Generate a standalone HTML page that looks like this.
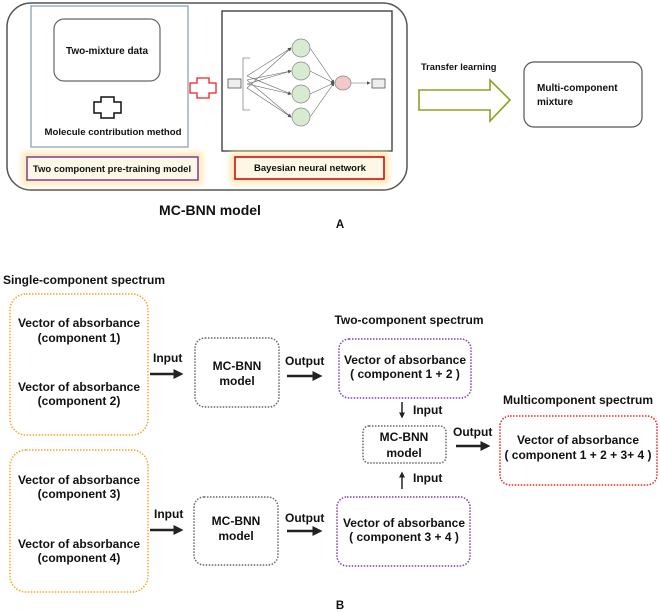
<!DOCTYPE html>
<html><head><meta charset="utf-8"><style>
body{margin:0;background:#fff}
svg{display:block}
text{font-family:"Liberation Sans","Noto Sans CJK SC",sans-serif;font-weight:bold;fill:#111}
</style></head><body>
<svg width="660" height="613" viewBox="0 0 660 613" xmlns="http://www.w3.org/2000/svg">
<defs>
<filter id="glow" x="-20%" y="-60%" width="140%" height="220%"><feGaussianBlur stdDeviation="3"/></filter>
<marker id="ah" markerWidth="6" markerHeight="6" refX="5" refY="3" orient="auto"><path d="M0,0 L6,3 L0,6 z" fill="#555"/></marker>
<marker id="bh" markerWidth="4" markerHeight="4" refX="3" refY="2" orient="auto"><path d="M0,0 L4,2 L0,4 z" fill="#222"/></marker>
</defs>
<!-- Part A -->
<rect x="7" y="3" width="400" height="187" rx="24" fill="none" stroke="#555" stroke-width="1.5"/>
<rect x="31" y="6" width="157" height="141" fill="none" stroke="#8aa3b5" stroke-width="1.3"/>
<rect x="54" y="19" width="106" height="62" rx="10" fill="none" stroke="#666" stroke-width="1.2"/>
<text x="107" y="54" font-size="10" text-anchor="middle">Two-mixture data</text>
<path d="M101,97 h13 v5 h7 v11 h-7 v5 h-13 v-5 h-7 v-11 h7 z" fill="none" stroke="#111" stroke-width="1.5"/>
<text x="113" y="135" font-size="9.6" text-anchor="middle">Molecule contribution method</text>
<rect x="22" y="152" width="181" height="33" fill="#fde9b6" filter="url(#glow)"/>
<rect x="27" y="157" width="171" height="23" fill="#fff7e6" stroke="#7b3fa0" stroke-width="1.5"/>
<text x="112" y="172" font-size="9.5" text-anchor="middle">Two component pre-training model</text>
<path d="M197,78 h12 v5 h7 v10 h-7 v5 h-12 v-5 h-7 v-10 h7 z" fill="none" stroke="#e22" stroke-width="1.3"/>
<rect x="222" y="11" width="170" height="140" fill="#fff" stroke="#333" stroke-width="1.3"/>
<rect x="228" y="79" width="13" height="9" fill="#eee" stroke="#555" stroke-width="0.8"/>
<path d="M250,58 h-7 v52 h7" fill="none" stroke="#888" stroke-width="0.8"/>
<g stroke="#666" stroke-width="0.6" marker-end="url(#ah)">
<line x1="247" y1="76" x2="291" y2="48"/><line x1="247" y1="80" x2="291" y2="71"/><line x1="247" y1="84" x2="291" y2="94"/><line x1="247" y1="88" x2="291" y2="117"/>
<line x1="247" y1="88" x2="291" y2="48"/><line x1="247" y1="76" x2="291" y2="94"/><line x1="247" y1="84" x2="291" y2="71"/><line x1="247" y1="80" x2="291" y2="117"/>
<line x1="310" y1="48" x2="334" y2="83"/><line x1="310" y1="71" x2="334" y2="83"/><line x1="310" y1="94" x2="334" y2="83"/><line x1="310" y1="117" x2="334" y2="83"/>
<line x1="351" y1="83" x2="370" y2="83"/>
</g>
<g fill="#d6ebcf" stroke="#888" stroke-width="0.7">
<circle cx="301" cy="48" r="9"/><circle cx="301" cy="71" r="9"/><circle cx="301" cy="94" r="9"/><circle cx="301" cy="117" r="9"/>
</g>
<ellipse cx="343" cy="83" rx="8" ry="7" fill="#f3c8c8" stroke="#888" stroke-width="0.7"/>
<rect x="372" y="79" width="13" height="9" fill="#eee" stroke="#555" stroke-width="0.8"/>
<rect x="230" y="152" width="159" height="32" fill="#fde9b6" filter="url(#glow)"/>
<rect x="235" y="157" width="149" height="22" fill="#fff7e6" stroke="#c00" stroke-width="1.5"/>
<text x="310" y="171" font-size="9.5" text-anchor="middle">Bayesian neural network</text>
<text x="210" y="215" font-size="14" text-anchor="middle">MC-BNN model</text>
<text x="340" y="228" font-size="11.5" text-anchor="middle">A</text>
<text x="421" y="70" font-size="9.3">Transfer learning</text>
<path d="M419,90 h71 v-10 l20,20 l-20,21 v-11 h-71 z" fill="none" stroke="#8ea020" stroke-width="1.6"/>
<rect x="524" y="62" width="118" height="65" rx="10" fill="none" stroke="#555" stroke-width="1.2"/>
<text x="537" y="91" font-size="10">Multi-component</text>
<text x="537" y="105" font-size="10">mixture</text>
<!-- Part B -->
<text x="3" y="284" font-size="12">Single-component spectrum</text>
<g fill="none" stroke-dasharray="1.5,1.5" stroke-width="1.5">
<rect x="10" y="294" width="138" height="141" rx="16" stroke="#f5a623"/>
<rect x="10" y="450" width="138" height="142" rx="16" stroke="#f5a623"/>
<rect x="195" y="338" width="84" height="69" rx="10" stroke="#666"/>
<rect x="194" y="497" width="84" height="68" rx="10" stroke="#666"/>
<rect x="339" y="339" width="132" height="59" rx="10" stroke="#7b3fc0"/>
<rect x="337" y="497" width="133" height="69" rx="10" stroke="#7b3fc0"/>
<rect x="363" y="426" width="83" height="37" rx="6" stroke="#666"/>
<rect x="500" y="416" width="157" height="69" rx="10" stroke="#e22"/>
</g>
<g font-size="12" text-anchor="middle">
<text x="79" y="327">Vector of absorbance</text>
<text x="79" y="342">(component 1)</text>
<text x="79" y="391">Vector of absorbance</text>
<text x="79" y="405">(component 2)</text>
<text x="79" y="484">Vector of absorbance</text>
<text x="79" y="498">(component 3)</text>
<text x="79" y="548">Vector of absorbance</text>
<text x="79" y="562">(component 4)</text>
<text x="237" y="370">MC-BNN</text>
<text x="237" y="385">model</text>
<text x="236" y="525">MC-BNN</text>
<text x="236" y="540">model</text>
<text x="405" y="364">Vector of absorbance</text>
<text x="405" y="378">( component 1 + 2 )</text>
<text x="404" y="527">Vector of absorbance</text>
<text x="404" y="541">( component 3 + 4 )</text>
<text x="404" y="441">MC-BNN</text>
<text x="404" y="457">model</text>
<text x="578" y="444">Vector of absorbance</text>
<text x="578" y="459">( component 1 + 2 + 3+ 4 )</text>
<text x="409" y="324">Two-component spectrum</text>
<text x="578" y="404">Multicomponent spectrum</text>
</g>
<g font-size="12">
<text x="153" y="362">Input</text>
<text x="285" y="365">Output</text>
<text x="154" y="518">Input</text>
<text x="285" y="522">Output</text>
<text x="413" y="414">Input</text>
<text x="413" y="482">Input</text>
<text x="453" y="436">Output</text>
</g>
<g stroke="#222" stroke-width="2.5" marker-end="url(#bh)">
<line x1="150" y1="374" x2="181" y2="374"/>
<line x1="287" y1="376" x2="320" y2="376"/>
<line x1="150" y1="530" x2="181" y2="530"/>
<line x1="287" y1="531" x2="320" y2="531"/>
<line x1="456" y1="446" x2="488" y2="446"/>
</g>
<g stroke="#222" stroke-width="1.5" marker-end="url(#bh)">
<line x1="402" y1="402" x2="402" y2="417"/>
<line x1="402" y1="489" x2="402" y2="473"/>
</g>
<text x="340" y="609" font-size="11.5" text-anchor="middle">B</text>
</svg>
</body></html>
